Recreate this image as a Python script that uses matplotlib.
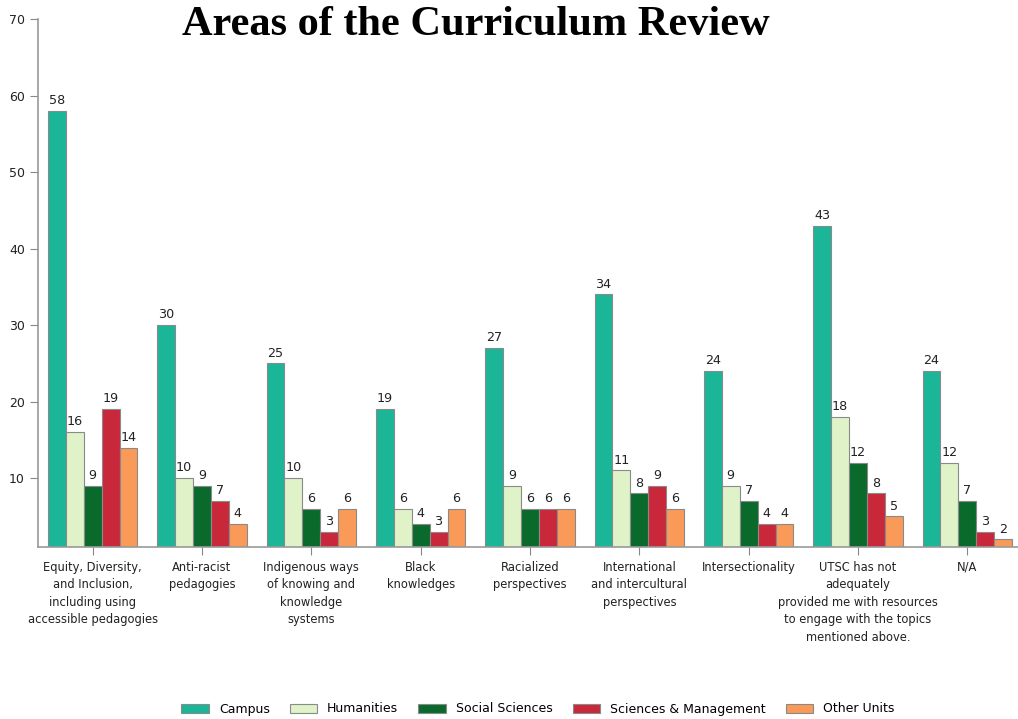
import numpy as np
import matplotlib.pyplot as plt

categories = [
    "Equity, Diversity,\nand Inclusion,\nincluding using\naccessible pedagogies",
    "Anti-racist\npedagogies",
    "Indigenous ways\nof knowing and\nknowledge\nsystems",
    "Black\nknowledges",
    "Racialized\nperspectives",
    "International\nand intercultural\nperspectives",
    "Intersectionality",
    "UTSC has not\nadequately\nprovided me with resources\nto engage with the topics\nmentioned above.",
    "N/A",
]
series_names = ["Campus", "Humanities", "Social Sciences", "Sciences & Management", "Other Units"]
campus = [58, 30, 25, 19, 27, 34, 24, 43, 24]
humanities = [16, 10, 10, 6, 9, 11, 9, 18, 12]
social = [9, 9, 6, 4, 6, 8, 7, 12, 7]
sci_mgmt = [19, 7, 3, 3, 6, 9, 4, 8, 3]
other = [14, 4, 6, 6, 6, 6, 4, 5, 2]

colors = ["#1bb598", "#dff2c8", "#0a6a2c", "#c9283b", "#f99a58"]
all_series = [campus, humanities, social, sci_mgmt, other]

fig = plt.figure(figsize=(10.18, 7.19), dpi=100)
# axes box placed to match the reference pixel layout
ax = fig.add_axes([38/1018, (719-547)/719, (1022-38)/1018, (547-19)/719])

x = np.arange(len(categories))
w = 0.164
for i, (vals, col, name) in enumerate(zip(all_series, colors, series_names)):
    pos = x + (i - 2) * w
    ax.bar(pos, vals, width=w, color=col, edgecolor="#8a8a8a", linewidth=0.8,
           label=name, zorder=2)
    for px_, v in zip(pos, vals):
        ax.text(px_, v + 0.5, str(v), ha="center", va="bottom", fontsize=9.2,
                color="#222222")

ax.set_ylim(1, 70)
ax.set_xlim(-0.5, 8.5)
ax.set_yticks(range(10, 71, 10))
ax.set_xticks(x)
ax.set_xticklabels(categories, fontsize=8.3, color="#222222")
for lbl in ax.get_xticklabels():
    lbl.set_linespacing(1.45)
ax.tick_params(axis="y", labelsize=9, length=6, color="#888888", labelcolor="#222222")
ax.tick_params(axis="x", length=6, color="#888888", pad=4)
for s in ["top", "right"]:
    ax.spines[s].set_visible(False)
for s in ["left", "bottom"]:
    ax.spines[s].set_color("#999999")
    ax.spines[s].set_linewidth(1.2)

fig.text(476/1018, 1 - 35/719, "Areas of the Curriculum Review", ha="center", va="baseline",
         fontsize=30.5, fontweight="bold", family="Liberation Serif")

fig.legend(loc="center", bbox_to_anchor=(538/1018, 1 - 709/719), ncol=5, frameon=False,
           fontsize=9, handlelength=2.2, handleheight=0.7, columnspacing=1.6,
           handletextpad=0.8)

fig.savefig("out.png", dpi=100)
